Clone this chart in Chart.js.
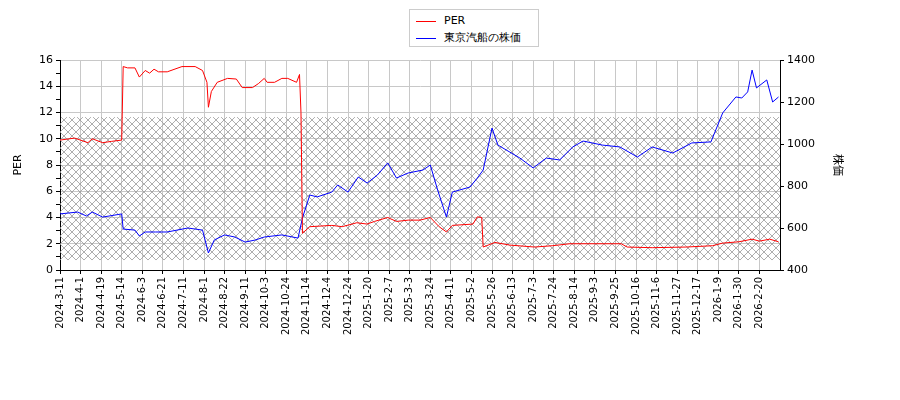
<!DOCTYPE html>
<html>
<head>
<meta charset="utf-8">
<script src="https://cdn.jsdelivr.net/npm/chart.js@4"></script>
<style>
  body { margin: 0; background: #fff; }
  #wrap { position: relative; width: 900px; height: 400px; }
  #legend { position: absolute; left: 409px; top: 9px; width: 130px; height: 38px; border: 1px solid #ccc;
    background: #fff; font: 11px "DejaVu Sans"; box-sizing: border-box; padding: 2px 6px; }
  #legend div { height: 17px; line-height: 17px; }
  #legend span { display: inline-block; width: 20px; height: 0; border-top: 1px solid; vertical-align: middle; margin-right: 8px; }
</style>
</head>
<body>
<div id="wrap">
  <canvas id="myChart" width="900" height="400"></canvas>
  <div id="legend">
    <div><span style="border-color:red"></span>PER</div>
    <div><span style="border-color:blue"></span>東京汽船の株価</div>
  </div>
</div>
<script>
// tick labels, one every 14 trading days
const tickLabels = ["2024-3-11", "2024-4-1", "2024-4-19", "2024-5-14", "2024-6-3", "2024-6-21", "2024-7-11",
  "2024-8-1", "2024-8-22", "2024-9-11", "2024-10-3", "2024-10-24", "2024-11-14", "2024-12-4", "2024-12-24",
  "2025-1-20", "2025-2-7", "2025-3-3", "2025-3-24", "2025-4-11", "2025-5-2", "2025-5-26", "2025-6-13",
  "2025-7-3", "2025-7-24", "2025-8-14", "2025-9-3", "2025-9-25", "2025-10-16", "2025-11-6", "2025-11-27",
  "2025-12-17", "2026-1-9", "2026-1-30", "2026-2-20"];

// PER (trading-day index, value)
const perDays = [0, 10, 19, 22, 29, 35, 42, 43, 46, 51, 54, 58, 61, 64, 67, 73, 83, 92, 97, 100, 101, 103, 107,
  114, 120, 124, 131, 135, 139, 141, 146, 151, 155, 161, 163, 164, 165, 170, 185, 192, 202, 209, 214, 223, 229,
  237, 245, 252, 258, 263, 267, 281, 284, 287, 288, 296, 306, 323, 335, 347, 382, 386, 403, 426, 444, 451, 462,
  471, 476, 483, 489];
const perValues = [9.9, 10.05, 9.7, 10.0, 9.7, 9.8, 9.9, 15.5, 15.4, 15.4, 14.7, 15.2, 15.0, 15.3, 15.1, 15.1,
  15.5, 15.5, 15.2, 14.3, 12.4, 13.6, 14.3, 14.6, 14.55, 13.9, 13.9, 14.2, 14.6, 14.3, 14.3, 14.6, 14.6, 14.3,
  14.9, 12.0, 2.8, 3.3, 3.4, 3.3, 3.6, 3.5, 3.7, 4.0, 3.7, 3.8, 3.8, 4.0, 3.3, 2.9, 3.4, 3.5, 4.05, 4.0, 1.75,
  2.1, 1.9, 1.75, 1.85, 2.0, 2.0, 1.75, 1.7, 1.75, 1.85, 2.05, 2.15, 2.35, 2.2, 2.35, 2.15];

// stock price (trading-day index, yen)
const priceDays = [0, 12, 18, 22, 29, 42, 43, 51, 54, 58, 65, 73, 87, 97, 101, 105, 112, 119, 126, 133, 139, 151,
  162, 165, 170, 175, 185, 189, 196, 203, 209, 216, 223, 229, 237, 247, 252, 257, 263, 267, 279, 284, 288, 294,
  298, 313, 322, 331, 340, 349, 356, 369, 381, 393, 403, 417, 430, 443, 451, 460, 464, 468, 471, 474, 481, 485, 489];
const priceValues = [667, 676, 657, 676, 652, 667, 595, 590, 562, 581, 581, 581, 600, 590, 481, 543, 567, 557, 533,
  543, 557, 567, 552, 648, 757, 748, 771, 805, 771, 843, 814, 852, 910, 838, 862, 876, 900, 781, 652, 771, 795,
  838, 876, 1076, 995, 933, 886, 933, 924, 986, 1014, 995, 986, 938, 986, 957, 1005, 1010, 1148, 1224, 1219, 1248,
  1352, 1267, 1305, 1200, 1224];

// hatched band on the PER axis
const bandPer = [0.76, 11.65];

const toXY = (xs, ys) => xs.map((x, i) => ({ x, y: ys[i] }));

const hatchPlugin = {
  id: "hatch",
  beforeDatasetsDraw(chart) {
    const { ctx, chartArea, scales } = chart;
    const p = document.createElement("canvas");
    p.width = 8; p.height = 8;
    const pc = p.getContext("2d");
    pc.strokeStyle = "#999"; pc.lineWidth = 0.8;
    pc.beginPath();
    pc.moveTo(0, 0); pc.lineTo(8, 8);
    pc.moveTo(8, 0); pc.lineTo(0, 8);
    pc.stroke();
    const top = scales.y.getPixelForValue(bandPer[1]);
    const bottom = scales.y.getPixelForValue(bandPer[0]);
    ctx.save();
    ctx.fillStyle = ctx.createPattern(p, "repeat");
    ctx.fillRect(chartArea.left, top, chartArea.right - chartArea.left, bottom - top);
    ctx.restore();
  },
};

const font = { family: "DejaVu Sans", size: 11 };

new Chart(document.getElementById("myChart"), {
  type: "line",
  data: {
    datasets: [
      { label: "PER", data: toXY(perDays, perValues), borderColor: "red", borderWidth: 1, pointRadius: 0, yAxisID: "y" },
      { label: "東京汽船の株価", data: toXY(priceDays, priceValues), borderColor: "blue", borderWidth: 1, pointRadius: 0, yAxisID: "y1" },
    ],
  },
  plugins: [hatchPlugin],
  options: {
    responsive: false,
    animation: false,
    layout: { padding: { top: 60, left: 12, right: 55, bottom: 0 } },
    plugins: { legend: { display: false }, tooltip: { enabled: false } },
    scales: {
      x: {
        type: "linear", min: 0, max: 490,
        afterBuildTicks: (s) => { s.ticks = tickLabels.map((_, i) => ({ value: i * 14 })); },
        afterFit: (s) => { s.height = 130; },
        ticks: { font: { family: "DejaVu Sans", size: 10 }, color: "#000", minRotation: 90, maxRotation: 90, autoSkip: false,
          callback: (v) => tickLabels[v / 14] },
        grid: { color: "#c8c8c8", tickColor: "#000", tickLength: 4 },
        border: { color: "#000" },
      },
      y: {
        position: "left", min: 0, max: 16,
        afterBuildTicks: (s) => { s.ticks = Array.from({ length: 17 }, (_, i) => ({ value: i })); },
        afterFit: (s) => { s.width = 48; },
        ticks: { font, color: "#000", autoSkip: false, callback: (v) => (v % 2 === 0 ? v : "") },
        grid: {
          color: (c) => (c.tick && c.tick.value % 2 === 0 ? "#c8c8c8" : "rgba(0,0,0,0)"),
          tickColor: "#000", tickLength: 4,
        },
        border: { color: "#000" },
        title: { display: true, text: "PER", font, color: "#000", padding: 0 },
      },
      y1: {
        position: "right", min: 400, max: 1400,
        afterBuildTicks: (s) => { s.ticks = [400, 600, 800, 1000, 1200, 1400].map((v) => ({ value: v })); },
        afterFit: (s) => { s.width = 65; },
        ticks: { font, color: "#000", callback: (v) => String(v) },
        grid: { drawOnChartArea: false, tickColor: "#000", tickLength: 4 },
        border: { color: "#000" },
        title: { display: true, text: "株価", font: { family: "Noto Sans CJK JP", size: 11 }, color: "#000", padding: 0 },
      },
    },
  },
});
</script>
</body>
</html>
